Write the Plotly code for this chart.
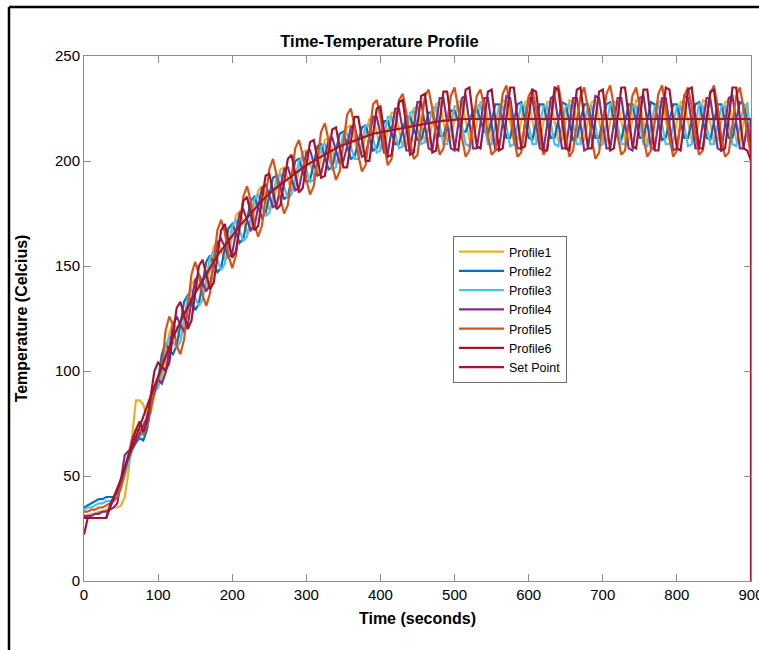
import plotly.graph_objects as go

# sampling interval of the profile readings (seconds)
STEP = 5

profile1 = [
    31, 31, 32, 32, 33, 33, 34, 34, 35, 35,
    36, 40, 52, 70, 86, 86, 84, 78, 80, 88,
    96, 95, 107, 118, 123, 120, 116, 120, 130, 141,
    144, 140, 136, 139, 149, 159, 162, 157, 153, 155,
    164, 174, 176, 171, 166, 168, 177, 186, 188, 183,
    177, 179, 187, 196, 197, 191, 186, 187, 195, 204,
    205, 199, 193, 194, 202, 210, 211, 205, 199, 200,
    208, 216, 217, 210, 203, 204, 212, 220, 221, 213,
    206, 206, 214, 223, 223, 215, 207, 207, 216, 225,
    226, 217, 209, 209, 218, 227, 228, 219, 210, 211,
    219, 228, 229, 219, 210, 209, 219, 228, 228, 220,
    210, 210, 219, 229, 228, 219, 209, 210, 219, 228,
    229, 220, 210, 209, 219, 228, 228, 219, 210, 210,
    219, 229, 228, 219, 209, 210, 219, 228, 229, 220,
    210, 209, 219, 228, 228, 219, 210, 210, 219, 229,
    228, 219, 209, 210, 219, 228, 229, 220, 210, 209,
    219, 228, 228, 219, 210, 210, 219, 229, 228, 219,
    209, 210, 219, 228, 229, 220, 210, 209, 219, 228,
    205,
]

profile2 = [
    35, 36, 37, 38, 39, 39, 40, 40, 40, 42,
    46, 52, 58, 63, 66, 68, 67, 72, 82, 92,
    96, 108, 113, 110, 108, 112, 122, 133, 136, 133,
    129, 132, 142, 152, 155, 151, 147, 149, 159, 168,
    170, 166, 161, 163, 172, 181, 183, 178, 173, 175,
    183, 192, 193, 188, 182, 183, 192, 200, 201, 196,
    190, 191, 199, 207, 208, 202, 196, 197, 205, 213,
    214, 207, 201, 202, 209, 216, 217, 211, 205, 206,
    213, 219, 219, 214, 208, 208, 215, 221, 221, 216,
    210, 210, 217, 223, 223, 218, 212, 212, 218, 224,
    224, 219, 214, 214, 219, 224, 225, 219, 214, 213,
    219, 227, 227, 219, 211, 211, 219, 227, 228, 219,
    211, 210, 219, 227, 227, 219, 211, 211, 219, 228,
    227, 219, 210, 211, 219, 227, 227, 219, 211, 211,
    219, 227, 228, 219, 211, 210, 219, 227, 227, 219,
    211, 211, 219, 228, 227, 219, 210, 211, 219, 227,
    227, 219, 211, 211, 219, 227, 228, 219, 211, 210,
    219, 227, 227, 219, 211, 211, 219, 228, 227, 219,
    206,
]

profile3 = [
    34, 35, 35, 36, 37, 37, 38, 38, 39, 40,
    44, 50, 57, 62, 66, 69, 70, 75, 84, 90,
    92, 100, 112, 116, 114, 111, 114, 125, 135, 139,
    135, 131, 134, 144, 154, 157, 153, 148, 151, 160,
    169, 172, 167, 162, 164, 173, 182, 184, 179, 174,
    175, 184, 192, 194, 188, 182, 184, 192, 200, 202,
    196, 190, 191, 199, 207, 208, 202, 196, 197, 205,
    213, 213, 207, 201, 201, 209, 217, 217, 211, 204,
    205, 212, 221, 221, 213, 206, 207, 214, 223, 224,
    215, 208, 209, 216, 225, 226, 217, 208, 208, 217,
    226, 226, 217, 208, 207, 217, 226, 227, 218, 208,
    208, 217, 226, 226, 217, 207, 208, 217, 227, 226,
    217, 208, 208, 217, 226, 226, 218, 208, 207, 217,
    226, 227, 217, 208, 208, 217, 226, 226, 217, 207,
    208, 217, 227, 226, 217, 208, 208, 217, 226, 226,
    218, 208, 207, 217, 226, 227, 217, 208, 208, 217,
    226, 226, 217, 207, 208, 217, 227, 226, 217, 208,
    208, 217, 226, 226, 218, 208, 207, 217, 226, 227,
    207,
]

profile4 = [
    31, 31, 31, 32, 32, 33, 33, 34, 35, 37,
    48, 60, 62, 63, 66, 70, 74, 78, 84, 90,
    96, 94, 99, 110, 122, 126, 122, 119, 122, 133,
    143, 146, 142, 138, 141, 151, 161, 163, 159, 154,
    156, 166, 175, 177, 172, 167, 169, 178, 187, 189,
    183, 178, 179, 188, 196, 197, 192, 186, 187, 196,
    204, 205, 199, 193, 194, 202, 210, 211, 205, 199,
    200, 207, 216, 217, 209, 202, 203, 211, 221, 221,
    213, 204, 204, 214, 225, 225, 215, 205, 205, 216,
    228, 228, 217, 206, 205, 218, 230, 230, 218, 206,
    205, 218, 230, 231, 219, 206, 206, 218, 230, 230,
    218, 205, 206, 218, 231, 230, 218, 206, 206, 218,
    230, 230, 219, 206, 205, 218, 230, 231, 218, 206,
    206, 218, 230, 230, 218, 205, 206, 218, 231, 230,
    218, 206, 206, 218, 230, 230, 219, 206, 205, 218,
    230, 231, 218, 206, 206, 218, 230, 230, 218, 205,
    206, 218, 231, 230, 218, 206, 206, 218, 230, 230,
    219, 206, 205, 218, 230, 231, 218, 206, 206, 218,
    204,
]

profile5 = [
    33, 33, 34, 34, 35, 35, 36, 37, 38, 40,
    45, 52, 60, 68, 72, 72, 70, 74, 84, 92,
    96, 102, 119, 126, 122, 112, 108, 115, 130, 146,
    152, 146, 136, 131, 137, 152, 167, 172, 166, 155,
    149, 155, 169, 183, 188, 181, 170, 164, 169, 183,
    196, 201, 193, 182, 175, 179, 193, 206, 210, 203,
    191, 184, 188, 201, 214, 218, 210, 198, 191, 195,
    208, 222, 225, 217, 203, 195, 198, 212, 227, 229,
    221, 207, 198, 201, 215, 229, 232, 223, 209, 201,
    203, 217, 231, 234, 225, 212, 203, 206, 218, 231,
    235, 225, 211, 202, 205, 218, 231, 234, 226, 212,
    203, 205, 218, 232, 236, 226, 211, 202, 204, 218,
    231, 234, 225, 211, 203, 206, 219, 232, 236, 226,
    212, 202, 205, 218, 231, 235, 225, 211, 201, 204,
    218, 232, 236, 226, 212, 203, 205, 218, 231, 235,
    226, 211, 202, 205, 218, 232, 236, 225, 211, 202,
    205, 218, 231, 235, 226, 212, 203, 205, 218, 232,
    236, 226, 211, 202, 204, 218, 231, 235, 225, 212,
    203,
]

profile6 = [
    22, 30, 30, 30, 30, 30, 30, 36, 40, 44,
    48, 54, 60, 66, 72, 76, 71, 76, 88, 100,
    104, 102, 100, 104, 116, 130, 133, 127, 120, 124,
    137, 150, 153, 146, 139, 142, 155, 167, 170, 162,
    154, 157, 169, 181, 183, 175, 167, 169, 181, 193,
    194, 186, 177, 179, 190, 201, 203, 194, 185, 187,
    198, 209, 210, 201, 192, 193, 204, 215, 216, 207,
    197, 197, 209, 221, 221, 211, 200, 200, 213, 225,
    226, 214, 202, 203, 215, 228, 229, 216, 203, 204,
    217, 231, 232, 218, 204, 205, 219, 233, 233, 220,
    206, 205, 220, 234, 235, 221, 207, 206, 219, 233,
    234, 220, 205, 206, 220, 235, 235, 221, 206, 207,
    220, 234, 233, 219, 205, 205, 220, 235, 234, 220,
    206, 205, 219, 234, 235, 221, 206, 206, 220, 233,
    234, 220, 205, 206, 220, 235, 235, 221, 207, 206,
    219, 234, 234, 220, 205, 205, 220, 235, 234, 220,
    206, 205, 220, 234, 235, 221, 206, 206, 219, 233,
    234, 220, 205, 206, 220, 235, 235, 221, 206, 205,
    200,
]

setpoint_time = [0, 15, 30, 45, 60, 75, 90, 105, 120, 135, 150, 165, 180,
                 195, 210, 225, 240, 255, 270, 285, 300, 315, 330, 345, 360,
                 375, 390, 405, 420, 435, 450, 465, 480, 495, 510, 900, 900]
setpoint_temp = [30, 30, 30, 44, 59, 73, 88, 102, 116, 127, 137, 146, 155,
                 162, 169, 175, 181, 186, 190, 194, 198, 201, 204, 207, 209,
                 211, 213, 214, 215, 216, 217, 218, 219, 219.5, 220, 220, 0]

series_names = ["Profile1", "Profile2", "Profile3", "Profile4", "Profile5", "Profile6"]
series_values = [profile1, profile2, profile3, profile4, profile5, profile6]
colors = ["#EDB120", "#0072BD", "#4DBEEE", "#7E2F8E", "#D95319", "#A2142F"]
setpoint_color = "#A2142F"

x_ticks = [0, 100, 200, 300, 400, 500, 600, 700, 800, 900]
y_ticks = [0, 50, 100, 150, 200, 250]

fig = go.Figure()
for name, vals, col in zip(series_names, series_values, colors):
    t = [STEP * i for i in range(len(vals))]
    fig.add_trace(go.Scatter(x=t, y=vals, mode="lines", name=name,
                             line=dict(color=col, width=2.2)))
fig.add_trace(go.Scatter(x=setpoint_time, y=setpoint_temp, mode="lines",
                         name="Set Point", line=dict(color=setpoint_color, width=2.2)))

W, H = 759, 650
L, R, T, B = 84, 8, 56, 69
pw, ph = W - L - R, H - T - B

def px(xp):
    return (xp - L) / pw

def py(yp):
    return (H - B - yp) / ph

FONT = "Liberation Sans, Arial, sans-serif"
axis_common = dict(showgrid=False, zeroline=False, ticks="inside", ticklen=7,
                   tickwidth=1, tickcolor="#8c8c8c", showline=True,
                   linecolor="#8c8c8c", linewidth=1, mirror="ticks",
                   automargin=False, ticklabeloverflow="allow",
                   tickfont=dict(family=FONT, size=15, color="#000000"))

fig.update_layout(
    width=W, height=H,
    margin=dict(l=L, r=R, t=T, b=B, pad=0),
    paper_bgcolor="white", plot_bgcolor="white",
    title=dict(text="<b>Time-Temperature Profile</b>", x=px(417.5), xanchor="center",
               y=1 - 41 / H, yanchor="middle",
               font=dict(family=FONT, size=16.5, color="#000000")),
    xaxis=dict(range=[0, 900], tickvals=x_ticks,
               title=dict(text="<b>Time (seconds)</b>", standoff=10,
                          font=dict(family=FONT, size=16, color="#000000")),
               **axis_common),
    yaxis=dict(range=[0, 250], tickvals=y_ticks,
               title=dict(text="<b>Temperature (Celcius)</b>", standoff=23,
                          font=dict(family=FONT, size=16, color="#000000")),
               **axis_common),
    legend=dict(x=px(453), y=py(236), xanchor="left", yanchor="top",
                bgcolor="white", bordercolor="#6e6e6e", borderwidth=1,
                font=dict(family=FONT, size=12.5, color="#000000"),
                tracegroupgap=0, itemwidth=45),
    showlegend=True,
    shapes=[
        dict(type="line", xref="paper", yref="paper", x0=px(9), x1=px(762),
             y0=py(7), y1=py(7), line=dict(color="#000000", width=2.5)),
        dict(type="line", xref="paper", yref="paper", x0=px(9), x1=px(9),
             y0=py(7), y1=py(653), line=dict(color="#000000", width=2.5)),
    ],
)

fig.write_html("out.html", config={"displayModeBar": False},
               post_script="document.body.style.margin='0';document.body.style.overflow='hidden';")
